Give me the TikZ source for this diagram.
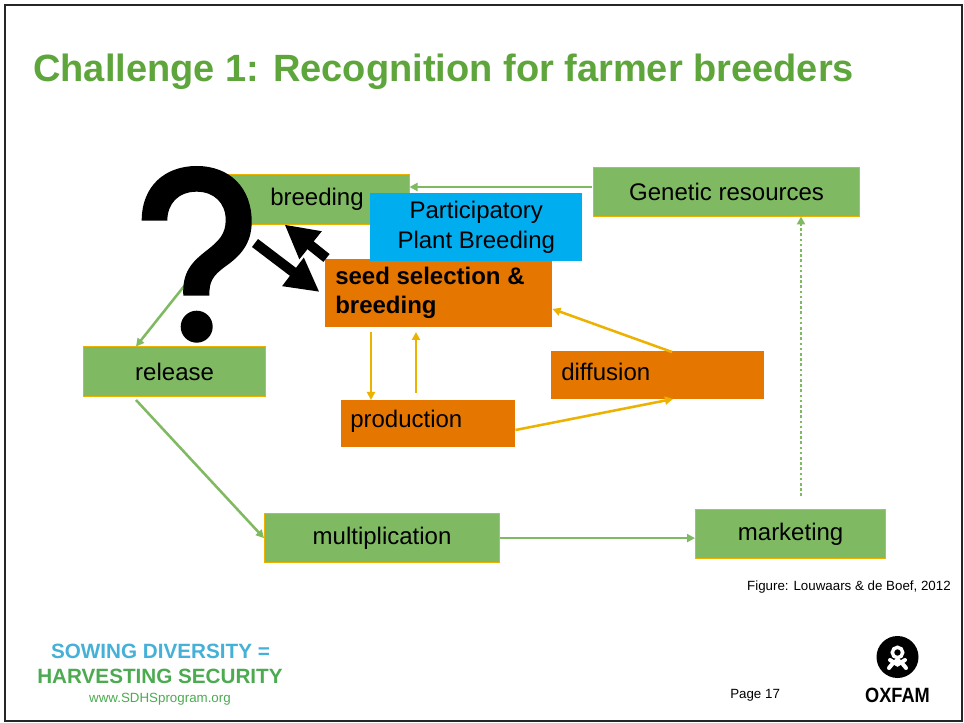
\documentclass[tikz,border=0pt]{standalone}
\usepackage{fontspec}
\setmainfont{Liberation Sans}
\usetikzlibrary{arrows.meta}
\definecolor{titlegreen}{HTML}{5EA63B}
\definecolor{boxgreen}{HTML}{7FBA63}
\definecolor{edgeyellow}{HTML}{EDB200}
\definecolor{boxorange}{HTML}{E57700}
\definecolor{boxblue}{HTML}{00AEEF}
\definecolor{sowblue}{HTML}{45B0D8}
\definecolor{sowgreen}{HTML}{4CAB50}
\newcommand{\fs}[1]{\fontsize{#1}{#1}\selectfont}
\tikzset{
  x=0.75pt,y=-0.75pt,
  gbox/.style={fill=boxgreen,draw=edgeyellow,line width=0.9pt,inner sep=0pt,font=\fs{18}},
  obox/.style={fill=boxorange,inner sep=0pt,font=\fs{18}},
  garrow/.style={draw=boxgreen,line width=1.9pt,-{Triangle[length=6pt,width=6pt]}},
  yarrow/.style={draw=edgeyellow,line width=1.9pt,-{Triangle[length=6pt,width=6pt]}},
  karrow/.style={draw=black,line width=7.5pt,-{Triangle[length=25pt,width=25pt]}},
}
\newcommand{\boxat}[7]{\node[#2,minimum width=#5*0.75pt-#3*0.75pt,minimum height=#6*0.75pt-#4*0.75pt,anchor=north west] (#1) at (#3,#4) {#7};}
\begin{document}
\begin{tikzpicture}
\useasboundingbox (0,0) rectangle (964,723);
\fill[white] (0,0) rectangle (964,723);
\draw[black!85,line width=1.5pt] (5,5) rectangle (962,721);
\node[anchor=west,inner sep=0pt,text=titlegreen,font=\fs{28.5}\bfseries] (title) at (33,72) {Challenge 1: Recognition for farmer breeders};

% boxes
\boxat{breeding}{gbox}{226}{174}{409}{224}{}
\node[inner sep=0pt,font=\fs{18}] (breedingtxt) at (317,199) {breeding};
\boxat{genetic}{gbox}{593}{167}{859}{216}{Genetic resources}
\boxat{release}{gbox}{83}{346}{265}{396}{release}
\boxat{multi}{gbox}{264}{513}{499}{562}{multiplication}
\boxat{market}{gbox}{695}{509}{885}{558}{marketing}
\boxat{seed}{obox}{325}{259}{552}{327}{}
\node[anchor=west,inner sep=0pt,font=\fs{18}\bfseries,align=left] (seedtxt) at (335,293) {seed selection \&\\[4pt]breeding};
\boxat{ppb}{fill=boxblue,inner sep=0pt,font=\fs{18},align=center}{370}{193}{582}{261}{Participatory\\[4pt]Plant Breeding}
\boxat{prod}{obox}{341}{400}{515}{447}{}
\node[anchor=west,inner sep=0pt,font=\fs{18}] (prodtxt) at (350,421) {production};
\boxat{diff}{obox}{551}{351}{764}{399}{}
\node[anchor=west,inner sep=0pt,font=\fs{18}] (difftxt) at (561,372) {diffusion};

% question mark
\coordinate (qfoot) at (185,285);
\draw[garrow] (qfoot) -- (136,346.5);
\fill[black] (141.7,220.7) .. controls (141.7,186) and (165,166) .. (196.7,166)
  .. controls (230,166) and (251.7,188) .. (251.7,221.7)
  .. controls (251.7,244) and (240,256) .. (226,266)
  .. controls (212,276) and (209.3,282) .. (209.3,295.7)
  -- (183.3,295.7)
  .. controls (182,272) and (192,262) .. (206,251)
  .. controls (219,241) and (225.7,234) .. (225.7,220)
  .. controls (225.7,203) and (214,191.7) .. (196.7,191.7)
  .. controls (178,191.7) and (167.3,204) .. (167.3,220.7) -- cycle;
\fill[black] (196.7,326.7) circle[radius=16];

% connectors
\coordinate (qa) at (255,243);
\coordinate (qb) at (319.5,292);
\coordinate (qc) at (326.5,258);
\coordinate (qd) at (284.5,224.5);
\draw[karrow] (qa) -- (qb);
\draw[karrow] (qc) -- (qd);
\draw[garrow] (592,187) -- (409.5,187);
\draw[garrow] (136,400) -- (multi.west);
\draw[garrow] (multi.east) -- (market.west |- multi.east);
\draw[garrow,dotted] (801,496) -- (801,216.5);
\draw[yarrow] (371,332) -- (371,400);
\draw[yarrow] (416,393) -- (416,332);
\draw[yarrow] (prod.east |- 0,430) -- (673,399);
\draw[yarrow] (672,352) -- (552.5,309);

% footer texts
\node[anchor=east,inner sep=0pt,font=\fs{10}] (fig) at (951,587) {Figure: Louwaars \& de Boef, 2012};
\node[inner sep=0pt,text=sowblue,font=\fs{15.5}\bfseries] (sow) at (160.5,651) {SOWING DIVERSITY =};
\node[inner sep=0pt,text=sowgreen,font=\fs{15.5}\bfseries] (harv) at (160,676) {HARVESTING SECURITY};
\node[inner sep=0pt,text=sowgreen,font=\fs{10}] (www) at (160,699) {www.SDHSprogram.org};
\node[anchor=west,inner sep=0pt,font=\fs{10}] (page) at (730,695) {Page 17};

% Oxfam logo
\fill[black] (897.5,657) circle[radius=21];
\draw[white,line width=2.6pt] (897.5,652.5) circle[radius=5.2];
\draw[white,line width=3pt,line cap=round] (889,668) .. controls (892,664) and (894,662) .. (897.5,660) .. controls (901,662) and (903,664) .. (906,668);
\draw[white,line width=3pt,line cap=round] (890,660) .. controls (893,662) and (895,663) .. (897.5,664.5) .. controls (900,663) and (902,662) .. (905,660);
\node[inner sep=0pt,font=\fs{15.5}\bfseries,xscale=0.88] (oxfam) at (897.5,695) {OXFAM};
\end{tikzpicture}
\end{document}
